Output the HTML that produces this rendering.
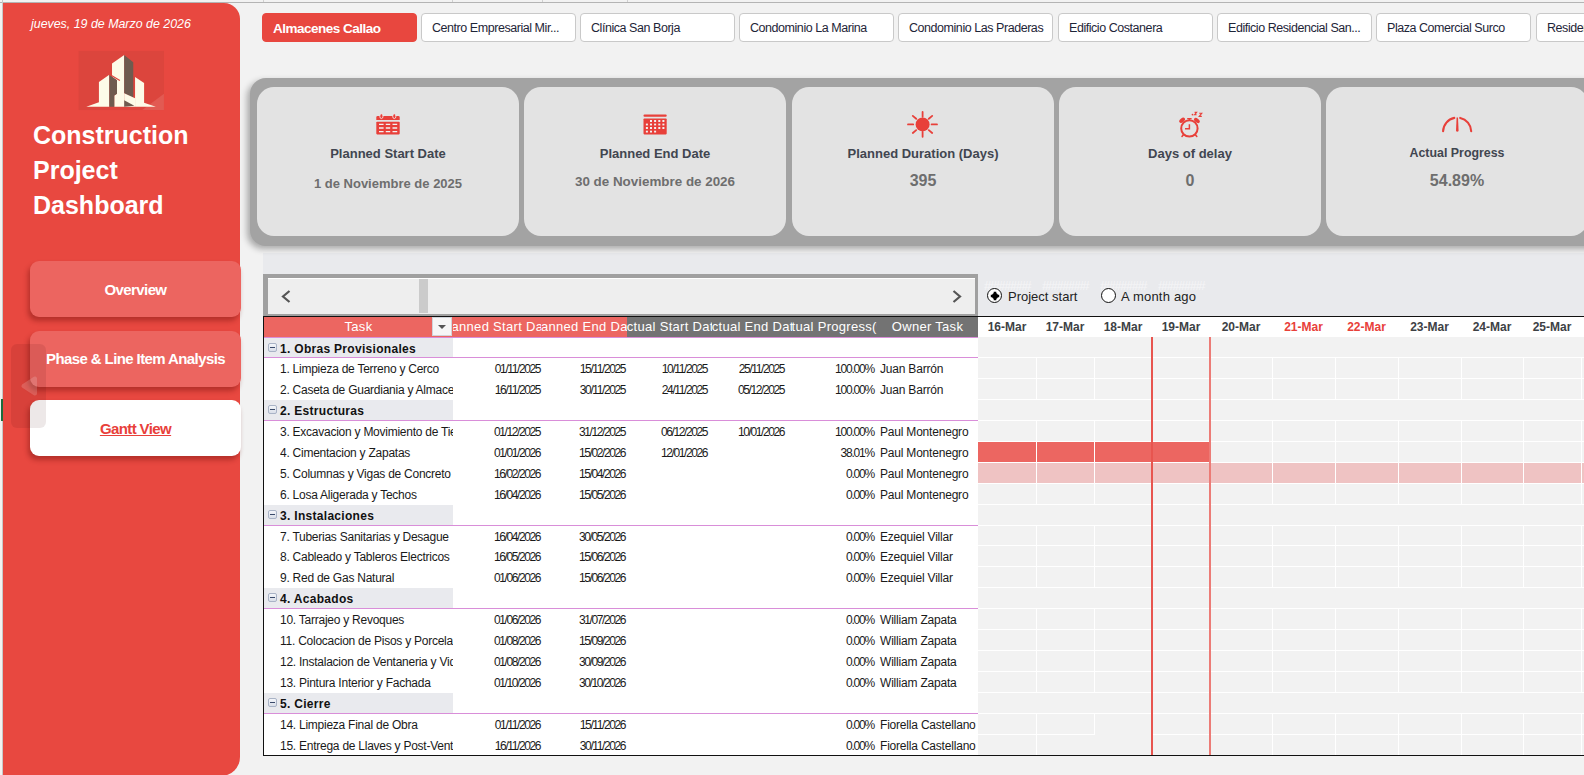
<!DOCTYPE html>
<html><head><meta charset="utf-8">
<style>
*{margin:0;padding:0;box-sizing:border-box}
html,body{width:1584px;height:775px;overflow:hidden;background:#f2f2f2;font-family:"Liberation Sans",sans-serif;position:relative}
.a{position:absolute}
.nw{white-space:nowrap}
/* sidebar */
#sb{left:3px;top:3px;width:237px;height:773px;background:#e84840;border-radius:0 16px 19px 0}
.btn{position:absolute;left:30px;width:211px;height:56px;border-radius:9px;background:#ec6560;box-shadow:-2px 4px 5px rgba(120,20,15,.45);color:#fff;font-weight:bold;font-size:15px;letter-spacing:-0.6px;text-align:center;line-height:58px}
/* tabs */
.tab{position:absolute;top:13px;height:29px;width:155px;border:1px solid #c9c9c9;border-radius:4px;background:#fff;color:#1e2538;font-size:12.5px;letter-spacing:-0.45px;line-height:29px;padding-left:10px;white-space:nowrap;overflow:hidden}
/* kpi */
#kpi{left:250px;top:78px;width:1400px;height:168px;background:#a3a3a3;border-radius:16px;box-shadow:-3px 3px 6px rgba(0,0,0,.3);z-index:1}
.card,.ct,#kpi~svg{z-index:2}
.card{position:absolute;top:87px;width:262px;height:149px;background:#e3e3e3;border-radius:17px}
.ct{position:absolute;left:0;width:262px;text-align:center;font-weight:bold;white-space:nowrap}
.ct1{top:145px;font-size:13px;color:#414650}
.ct2{font-weight:bold;color:#6e6e6e}
.hd{height:21px;display:flex;justify-content:center;overflow:hidden;white-space:nowrap;color:#fff;font-size:13px;line-height:21px;letter-spacing:0.3px}
.tt,.tp,.td,.tpc,.to{white-space:nowrap;line-height:21px;font-size:12px;color:#1a1a1a}
.tt{overflow:hidden;letter-spacing:-0.25px}
.tp{font-weight:bold;letter-spacing:0.3px;color:#111}
.td{text-align:right;letter-spacing:-1.4px}
.tpc{text-align:right;letter-spacing:-1.2px}
.to{letter-spacing:-0.2px}
.gd{height:21px;text-align:center;font-weight:bold;font-size:12px;line-height:21px;white-space:nowrap}
</style></head><body>
<!-- top gridline strip -->
<div class="a" style="left:0;top:2px;width:1584px;height:1px;background:#b4b4b4"></div><div class="a" style="left:263px;top:0;width:1px;height:2px;background:#d0d0d0"></div><div class="a" style="left:452px;top:0;width:1px;height:2px;background:#d0d0d0"></div><div class="a" style="left:542px;top:0;width:1px;height:2px;background:#d0d0d0"></div><div class="a" style="left:627px;top:0;width:1px;height:2px;background:#d0d0d0"></div>

<!-- sidebar -->
<div class="a" style="left:2px;top:0;width:1px;height:775px;background:#c8c8c8"></div>
<div class="a" style="left:1px;top:399px;width:2px;height:22px;background:#1e6b3c"></div>
<div id="sb" class="a"></div>
<div class="a nw" style="left:31px;top:17px;color:#fff;font-style:italic;font-size:12.4px">jueves, 19 de Marzo de 2026</div>
<div class="a" style="left:33px;top:118px;color:#fff;font-weight:bold;font-size:25px;line-height:35px">Construction<br>Project<br>Dashboard</div>
<div class="btn" style="top:261px">Overview</div>
<div class="btn" style="top:331px;line-height:56px">Phase &amp; Line Item Analysis</div>
<div class="btn" style="top:400px;background:#fff;color:#e8403a;text-decoration:underline">Gantt View</div>

<!-- tabs -->
<div class="tab" style="left:262px;background:#e8473f;border-color:#e8473f;color:#fff;font-weight:bold;font-size:13.5px;letter-spacing:-0.5px;line-height:30px">Almacenes Callao</div>
<div class="tab" style="left:421px">Centro Empresarial Mir...</div>
<div class="tab" style="left:580px">Clínica San Borja</div>
<div class="tab" style="left:739px">Condominio La Marina</div>
<div class="tab" style="left:898px">Condominio Las Praderas</div>
<div class="tab" style="left:1058px">Edificio Costanera</div>
<div class="tab" style="left:1217px">Edificio Residencial San...</div>
<div class="tab" style="left:1376px">Plaza Comercial Surco</div>
<div class="tab" style="left:1536px">Residencial</div>

<!-- KPI -->
<div id="kpi" class="a"></div>
<div class="card" style="left:257px"></div>
<div class="card" style="left:524px"></div>
<div class="card" style="left:792px"></div>
<div class="card" style="left:1059px"></div>
<div class="card" style="left:1326px"></div>


<!-- TABLE -->
<div class="a" style="left:263px;top:253px;width:1321px;height:63px;background:#e9eaed"></div>
<div class="a" style="left:263px;top:274px;width:715px;height:42px;background:#a0a0a0"></div>
<div class="a" style="left:268px;top:278px;width:707px;height:36px;background:#eeeeee;border-top:1px solid #fff"></div>
<div class="a" style="left:419px;top:279px;width:9px;height:34px;background:#cbcbcb"></div>
<svg class="a" style="left:278px;top:288px" width="16" height="17" viewBox="0 0 16 17"><path d="M11.5 3 L5 8.5 L11.5 14" fill="none" stroke="#545454" stroke-width="2.2"/></svg>
<svg class="a" style="left:949px;top:288px" width="16" height="17" viewBox="0 0 16 17"><path d="M4.5 3 L11 8.5 L4.5 14" fill="none" stroke="#545454" stroke-width="2.2"/></svg>
<div class="a nw" style="left:984px;top:279px;font-size:13px;line-height:13px;color:#f5f5f7;letter-spacing:-1.48px">########</div>
<div class="a nw" style="left:1042px;top:279px;font-size:13px;line-height:13px;color:#f5f5f7;letter-spacing:-1.48px">########</div>
<div class="a nw" style="left:1100px;top:279px;font-size:13px;line-height:13px;color:#f5f5f7;letter-spacing:-1.48px">########</div>
<div class="a nw" style="left:1158px;top:279px;font-size:13px;line-height:13px;color:#f5f5f7;letter-spacing:-1.48px">########</div>
<div class="a" style="left:987px;top:288px;width:15px;height:15px;border:1px solid #111;border-radius:50%;background:#fff"></div>
<svg class="a" style="left:987.5px;top:288.5px" width="14" height="14" viewBox="0 0 14 14"><circle cx="7" cy="7" r="3" fill="#000"/><path d="M7 2.8V11.2M2.8 7H11.2" stroke="#000" stroke-width="2.6"/></svg>
<div class="a nw" style="left:1008px;top:289px;font-size:13px;line-height:16px;color:#222">Project start</div>
<div class="a" style="left:1101px;top:288px;width:15px;height:15px;border:1px solid #111;border-radius:50%;background:#fff"></div>
<div class="a nw" style="left:1121px;top:289px;font-size:13px;line-height:16px;color:#222;letter-spacing:0.2px">A month ago</div>
<div class="a" style="left:263px;top:316px;width:1321px;height:1px;background:#111"></div>
<div class="a" style="left:263px;top:317px;width:715px;height:439px;background:#fff;border-left:1px solid #111"></div>
<div class="a" style="left:264px;top:317px;width:363px;height:20px;background:#ec6661"></div>
<div class="a" style="left:627px;top:317px;width:351px;height:20px;background:#737373"></div>
<div class="a" style="left:264px;top:337px;width:714px;height:1px;background:#d98ed9"></div>
<div class="a hd" style="left:264px;top:316px;width:189px"><span>Task</span></div>
<div class="a hd" style="left:453px;top:316px;width:88px"><span>Planned Start Date</span></div>
<div class="a hd" style="left:541px;top:316px;width:86px"><span>Planned End Date</span></div>
<div class="a hd" style="left:627px;top:316px;width:85px"><span>Actual Start Date</span></div>
<div class="a hd" style="left:712px;top:316px;width:80px"><span>Actual End Date</span></div>
<div class="a hd" style="left:792px;top:316px;width:85px"><span>Actual Progress(%)</span></div>
<div class="a hd" style="left:877px;top:316px;width:101px"><span>Owner Task</span></div>
<div class="a" style="left:432px;top:317px;width:20px;height:19px;background:#f6f6f6;border:1px solid #d0d4da"></div>
<svg class="a" style="left:432px;top:317px" width="20" height="19" viewBox="0 0 20 19"><path d="M6 8 L14 8 L10 12 Z" fill="#555"/></svg>
<div class="a" style="left:264px;top:338px;width:189px;height:19px;background:#e9eaee"></div>
<div class="a" style="left:264px;top:357px;width:714px;height:1px;background:#d98ed9"></div>
<div class="a" style="left:268px;top:343px;width:9px;height:9px;border:1px solid #a9b3c6;border-radius:2px;background:linear-gradient(#f4f6fa,#d9dee8)"></div>
<div class="a" style="left:270px;top:347px;width:5px;height:1px;background:#3a4a6a"></div>
<div class="a tp" style="left:280px;top:339px">1. Obras Provisionales</div>
<div class="a tt" style="left:280px;top:359px;width:173px">1. Limpieza de Terreno y Cerco</div>
<div class="a td" style="left:480px;top:359px;width:60px">01/11/2025</div>
<div class="a td" style="left:565px;top:359px;width:60px">15/11/2025</div>
<div class="a td" style="left:647px;top:359px;width:60px">10/11/2025</div>
<div class="a td" style="left:724px;top:359px;width:60px">25/11/2025</div>
<div class="a tpc" style="left:814px;top:359px;width:60px">100.00%</div>
<div class="a to" style="left:880px;top:359px">Juan Barrón</div>
<div class="a tt" style="left:280px;top:380px;width:173px">2. Caseta de Guardiania y Almacen</div>
<div class="a td" style="left:480px;top:380px;width:60px">16/11/2025</div>
<div class="a td" style="left:565px;top:380px;width:60px">30/11/2025</div>
<div class="a td" style="left:647px;top:380px;width:60px">24/11/2025</div>
<div class="a td" style="left:724px;top:380px;width:60px">05/12/2025</div>
<div class="a tpc" style="left:814px;top:380px;width:60px">100.00%</div>
<div class="a to" style="left:880px;top:380px">Juan Barrón</div>
<div class="a" style="left:264px;top:400px;width:189px;height:20px;background:#e9eaee"></div>
<div class="a" style="left:264px;top:420px;width:714px;height:1px;background:#d98ed9"></div>
<div class="a" style="left:268px;top:405px;width:9px;height:9px;border:1px solid #a9b3c6;border-radius:2px;background:linear-gradient(#f4f6fa,#d9dee8)"></div>
<div class="a" style="left:270px;top:409px;width:5px;height:1px;background:#3a4a6a"></div>
<div class="a tp" style="left:280px;top:401px">2. Estructuras</div>
<div class="a tt" style="left:280px;top:422px;width:173px">3. Excavacion y Movimiento de Tierras</div>
<div class="a td" style="left:480px;top:422px;width:60px">01/12/2025</div>
<div class="a td" style="left:565px;top:422px;width:60px">31/12/2025</div>
<div class="a td" style="left:647px;top:422px;width:60px">06/12/2025</div>
<div class="a td" style="left:724px;top:422px;width:60px">10/01/2026</div>
<div class="a tpc" style="left:814px;top:422px;width:60px">100.00%</div>
<div class="a to" style="left:880px;top:422px">Paul Montenegro</div>
<div class="a tt" style="left:280px;top:443px;width:173px">4. Cimentacion y Zapatas</div>
<div class="a td" style="left:480px;top:443px;width:60px">01/01/2026</div>
<div class="a td" style="left:565px;top:443px;width:60px">15/02/2026</div>
<div class="a td" style="left:647px;top:443px;width:60px">12/01/2026</div>
<div class="a tpc" style="left:814px;top:443px;width:60px">38.01%</div>
<div class="a to" style="left:880px;top:443px">Paul Montenegro</div>
<div class="a tt" style="left:280px;top:464px;width:173px">5. Columnas y Vigas de Concreto</div>
<div class="a td" style="left:480px;top:464px;width:60px">16/02/2026</div>
<div class="a td" style="left:565px;top:464px;width:60px">15/04/2026</div>
<div class="a tpc" style="left:814px;top:464px;width:60px">0.00%</div>
<div class="a to" style="left:880px;top:464px">Paul Montenegro</div>
<div class="a tt" style="left:280px;top:485px;width:173px">6. Losa Aligerada y Techos</div>
<div class="a td" style="left:480px;top:485px;width:60px">16/04/2026</div>
<div class="a td" style="left:565px;top:485px;width:60px">15/05/2026</div>
<div class="a tpc" style="left:814px;top:485px;width:60px">0.00%</div>
<div class="a to" style="left:880px;top:485px">Paul Montenegro</div>
<div class="a" style="left:264px;top:505px;width:189px;height:20px;background:#e9eaee"></div>
<div class="a" style="left:264px;top:525px;width:714px;height:1px;background:#d98ed9"></div>
<div class="a" style="left:268px;top:510px;width:9px;height:9px;border:1px solid #a9b3c6;border-radius:2px;background:linear-gradient(#f4f6fa,#d9dee8)"></div>
<div class="a" style="left:270px;top:514px;width:5px;height:1px;background:#3a4a6a"></div>
<div class="a tp" style="left:280px;top:506px">3. Instalaciones</div>
<div class="a tt" style="left:280px;top:527px;width:173px">7. Tuberias Sanitarias y Desague</div>
<div class="a td" style="left:480px;top:527px;width:60px">16/04/2026</div>
<div class="a td" style="left:565px;top:527px;width:60px">30/05/2026</div>
<div class="a tpc" style="left:814px;top:527px;width:60px">0.00%</div>
<div class="a to" style="left:880px;top:527px">Ezequiel Villar</div>
<div class="a tt" style="left:280px;top:547px;width:173px">8. Cableado y Tableros Electricos</div>
<div class="a td" style="left:480px;top:547px;width:60px">16/05/2026</div>
<div class="a td" style="left:565px;top:547px;width:60px">15/06/2026</div>
<div class="a tpc" style="left:814px;top:547px;width:60px">0.00%</div>
<div class="a to" style="left:880px;top:547px">Ezequiel Villar</div>
<div class="a tt" style="left:280px;top:568px;width:173px">9. Red de Gas Natural</div>
<div class="a td" style="left:480px;top:568px;width:60px">01/06/2026</div>
<div class="a td" style="left:565px;top:568px;width:60px">15/06/2026</div>
<div class="a tpc" style="left:814px;top:568px;width:60px">0.00%</div>
<div class="a to" style="left:880px;top:568px">Ezequiel Villar</div>
<div class="a" style="left:264px;top:588px;width:189px;height:20px;background:#e9eaee"></div>
<div class="a" style="left:264px;top:608px;width:714px;height:1px;background:#d98ed9"></div>
<div class="a" style="left:268px;top:593px;width:9px;height:9px;border:1px solid #a9b3c6;border-radius:2px;background:linear-gradient(#f4f6fa,#d9dee8)"></div>
<div class="a" style="left:270px;top:597px;width:5px;height:1px;background:#3a4a6a"></div>
<div class="a tp" style="left:280px;top:589px">4. Acabados</div>
<div class="a tt" style="left:280px;top:610px;width:173px">10. Tarrajeo y Revoques</div>
<div class="a td" style="left:480px;top:610px;width:60px">01/06/2026</div>
<div class="a td" style="left:565px;top:610px;width:60px">31/07/2026</div>
<div class="a tpc" style="left:814px;top:610px;width:60px">0.00%</div>
<div class="a to" style="left:880px;top:610px">William Zapata</div>
<div class="a tt" style="left:280px;top:631px;width:173px">11. Colocacion de Pisos y Porcelanato</div>
<div class="a td" style="left:480px;top:631px;width:60px">01/08/2026</div>
<div class="a td" style="left:565px;top:631px;width:60px">15/09/2026</div>
<div class="a tpc" style="left:814px;top:631px;width:60px">0.00%</div>
<div class="a to" style="left:880px;top:631px">William Zapata</div>
<div class="a tt" style="left:280px;top:652px;width:173px">12. Instalacion de Ventaneria y Vidrios</div>
<div class="a td" style="left:480px;top:652px;width:60px">01/08/2026</div>
<div class="a td" style="left:565px;top:652px;width:60px">30/09/2026</div>
<div class="a tpc" style="left:814px;top:652px;width:60px">0.00%</div>
<div class="a to" style="left:880px;top:652px">William Zapata</div>
<div class="a tt" style="left:280px;top:673px;width:173px">13. Pintura Interior y Fachada</div>
<div class="a td" style="left:480px;top:673px;width:60px">01/10/2026</div>
<div class="a td" style="left:565px;top:673px;width:60px">30/10/2026</div>
<div class="a tpc" style="left:814px;top:673px;width:60px">0.00%</div>
<div class="a to" style="left:880px;top:673px">William Zapata</div>
<div class="a" style="left:264px;top:693px;width:189px;height:20px;background:#e9eaee"></div>
<div class="a" style="left:264px;top:713px;width:714px;height:1px;background:#d98ed9"></div>
<div class="a" style="left:268px;top:698px;width:9px;height:9px;border:1px solid #a9b3c6;border-radius:2px;background:linear-gradient(#f4f6fa,#d9dee8)"></div>
<div class="a" style="left:270px;top:702px;width:5px;height:1px;background:#3a4a6a"></div>
<div class="a tp" style="left:280px;top:694px">5. Cierre</div>
<div class="a tt" style="left:280px;top:715px;width:173px">14. Limpieza Final de Obra</div>
<div class="a td" style="left:480px;top:715px;width:60px">01/11/2026</div>
<div class="a td" style="left:565px;top:715px;width:60px">15/11/2026</div>
<div class="a tpc" style="left:814px;top:715px;width:60px">0.00%</div>
<div class="a to" style="left:880px;top:715px">Fiorella Castellano</div>
<div class="a tt" style="left:280px;top:736px;width:173px">15. Entrega de Llaves y Post-Venta</div>
<div class="a td" style="left:480px;top:736px;width:60px">16/11/2026</div>
<div class="a td" style="left:565px;top:736px;width:60px">30/11/2026</div>
<div class="a tpc" style="left:814px;top:736px;width:60px">0.00%</div>
<div class="a to" style="left:880px;top:736px">Fiorella Castellano</div>
<div class="a" style="left:978px;top:317px;width:606px;height:20px;background:#fff"></div>
<div class="a gd" style="left:978px;top:317px;width:58px;color:#3d4145">16-Mar</div>
<div class="a gd" style="left:1036px;top:317px;width:58px;color:#3d4145">17-Mar</div>
<div class="a gd" style="left:1094px;top:317px;width:58px;color:#3d4145">18-Mar</div>
<div class="a gd" style="left:1152px;top:317px;width:58px;color:#3d4145">19-Mar</div>
<div class="a gd" style="left:1210px;top:317px;width:62px;color:#3d4145">20-Mar</div>
<div class="a gd" style="left:1272px;top:317px;width:63px;color:#e8403a">21-Mar</div>
<div class="a gd" style="left:1335px;top:317px;width:63px;color:#e8403a">22-Mar</div>
<div class="a gd" style="left:1398px;top:317px;width:63px;color:#3d4145">23-Mar</div>
<div class="a gd" style="left:1461px;top:317px;width:62px;color:#3d4145">24-Mar</div>
<div class="a gd" style="left:1523px;top:317px;width:58px;color:#3d4145">25-Mar</div>
<div class="a gd" style="left:1581px;top:317px;width:59px;color:#3d4145">26-Mar</div>
<div class="a" style="left:978px;top:338px;width:606px;height:417px;background:#f2f2f2"></div>
<div class="a" style="left:978px;top:357px;width:606px;height:1px;background:#fff"></div>
<div class="a" style="left:978px;top:378px;width:606px;height:1px;background:#fff"></div>
<div class="a" style="left:1036px;top:358px;width:1px;height:21px;background:#fff"></div>
<div class="a" style="left:1094px;top:358px;width:1px;height:21px;background:#fff"></div>
<div class="a" style="left:1152px;top:358px;width:1px;height:21px;background:#fff"></div>
<div class="a" style="left:1210px;top:358px;width:1px;height:21px;background:#fff"></div>
<div class="a" style="left:1272px;top:358px;width:1px;height:21px;background:#fff"></div>
<div class="a" style="left:1335px;top:358px;width:1px;height:21px;background:#fff"></div>
<div class="a" style="left:1398px;top:358px;width:1px;height:21px;background:#fff"></div>
<div class="a" style="left:1461px;top:358px;width:1px;height:21px;background:#fff"></div>
<div class="a" style="left:1523px;top:358px;width:1px;height:21px;background:#fff"></div>
<div class="a" style="left:1581px;top:358px;width:1px;height:21px;background:#fff"></div>
<div class="a" style="left:978px;top:399px;width:606px;height:1px;background:#fff"></div>
<div class="a" style="left:1036px;top:379px;width:1px;height:21px;background:#fff"></div>
<div class="a" style="left:1094px;top:379px;width:1px;height:21px;background:#fff"></div>
<div class="a" style="left:1152px;top:379px;width:1px;height:21px;background:#fff"></div>
<div class="a" style="left:1210px;top:379px;width:1px;height:21px;background:#fff"></div>
<div class="a" style="left:1272px;top:379px;width:1px;height:21px;background:#fff"></div>
<div class="a" style="left:1335px;top:379px;width:1px;height:21px;background:#fff"></div>
<div class="a" style="left:1398px;top:379px;width:1px;height:21px;background:#fff"></div>
<div class="a" style="left:1461px;top:379px;width:1px;height:21px;background:#fff"></div>
<div class="a" style="left:1523px;top:379px;width:1px;height:21px;background:#fff"></div>
<div class="a" style="left:1581px;top:379px;width:1px;height:21px;background:#fff"></div>
<div class="a" style="left:978px;top:420px;width:606px;height:1px;background:#fff"></div>
<div class="a" style="left:978px;top:441px;width:606px;height:1px;background:#fff"></div>
<div class="a" style="left:1036px;top:421px;width:1px;height:21px;background:#fff"></div>
<div class="a" style="left:1094px;top:421px;width:1px;height:21px;background:#fff"></div>
<div class="a" style="left:1152px;top:421px;width:1px;height:21px;background:#fff"></div>
<div class="a" style="left:1210px;top:421px;width:1px;height:21px;background:#fff"></div>
<div class="a" style="left:1272px;top:421px;width:1px;height:21px;background:#fff"></div>
<div class="a" style="left:1335px;top:421px;width:1px;height:21px;background:#fff"></div>
<div class="a" style="left:1398px;top:421px;width:1px;height:21px;background:#fff"></div>
<div class="a" style="left:1461px;top:421px;width:1px;height:21px;background:#fff"></div>
<div class="a" style="left:1523px;top:421px;width:1px;height:21px;background:#fff"></div>
<div class="a" style="left:1581px;top:421px;width:1px;height:21px;background:#fff"></div>
<div class="a" style="left:978px;top:462px;width:606px;height:1px;background:#fff"></div>
<div class="a" style="left:978px;top:442px;width:232px;height:20px;background:#ec6661"></div>
<div class="a" style="left:1036px;top:442px;width:1px;height:21px;background:#fff"></div>
<div class="a" style="left:1094px;top:442px;width:1px;height:21px;background:#fff"></div>
<div class="a" style="left:1152px;top:442px;width:1px;height:21px;background:#fff"></div>
<div class="a" style="left:1210px;top:442px;width:1px;height:21px;background:#fff"></div>
<div class="a" style="left:1272px;top:442px;width:1px;height:21px;background:#fff"></div>
<div class="a" style="left:1335px;top:442px;width:1px;height:21px;background:#fff"></div>
<div class="a" style="left:1398px;top:442px;width:1px;height:21px;background:#fff"></div>
<div class="a" style="left:1461px;top:442px;width:1px;height:21px;background:#fff"></div>
<div class="a" style="left:1523px;top:442px;width:1px;height:21px;background:#fff"></div>
<div class="a" style="left:1581px;top:442px;width:1px;height:21px;background:#fff"></div>
<div class="a" style="left:978px;top:483px;width:606px;height:1px;background:#fff"></div>
<div class="a" style="left:978px;top:463px;width:606px;height:20px;background:#efc3c3"></div>
<div class="a" style="left:1036px;top:463px;width:1px;height:21px;background:#fff"></div>
<div class="a" style="left:1094px;top:463px;width:1px;height:21px;background:#fff"></div>
<div class="a" style="left:1152px;top:463px;width:1px;height:21px;background:#fff"></div>
<div class="a" style="left:1210px;top:463px;width:1px;height:21px;background:#fff"></div>
<div class="a" style="left:1272px;top:463px;width:1px;height:21px;background:#fff"></div>
<div class="a" style="left:1335px;top:463px;width:1px;height:21px;background:#fff"></div>
<div class="a" style="left:1398px;top:463px;width:1px;height:21px;background:#fff"></div>
<div class="a" style="left:1461px;top:463px;width:1px;height:21px;background:#fff"></div>
<div class="a" style="left:1523px;top:463px;width:1px;height:21px;background:#fff"></div>
<div class="a" style="left:1581px;top:463px;width:1px;height:21px;background:#fff"></div>
<div class="a" style="left:978px;top:504px;width:606px;height:1px;background:#fff"></div>
<div class="a" style="left:1036px;top:484px;width:1px;height:21px;background:#fff"></div>
<div class="a" style="left:1094px;top:484px;width:1px;height:21px;background:#fff"></div>
<div class="a" style="left:1152px;top:484px;width:1px;height:21px;background:#fff"></div>
<div class="a" style="left:1210px;top:484px;width:1px;height:21px;background:#fff"></div>
<div class="a" style="left:1272px;top:484px;width:1px;height:21px;background:#fff"></div>
<div class="a" style="left:1335px;top:484px;width:1px;height:21px;background:#fff"></div>
<div class="a" style="left:1398px;top:484px;width:1px;height:21px;background:#fff"></div>
<div class="a" style="left:1461px;top:484px;width:1px;height:21px;background:#fff"></div>
<div class="a" style="left:1523px;top:484px;width:1px;height:21px;background:#fff"></div>
<div class="a" style="left:1581px;top:484px;width:1px;height:21px;background:#fff"></div>
<div class="a" style="left:978px;top:525px;width:606px;height:1px;background:#fff"></div>
<div class="a" style="left:978px;top:545px;width:606px;height:1px;background:#fff"></div>
<div class="a" style="left:1036px;top:526px;width:1px;height:20px;background:#fff"></div>
<div class="a" style="left:1094px;top:526px;width:1px;height:20px;background:#fff"></div>
<div class="a" style="left:1152px;top:526px;width:1px;height:20px;background:#fff"></div>
<div class="a" style="left:1210px;top:526px;width:1px;height:20px;background:#fff"></div>
<div class="a" style="left:1272px;top:526px;width:1px;height:20px;background:#fff"></div>
<div class="a" style="left:1335px;top:526px;width:1px;height:20px;background:#fff"></div>
<div class="a" style="left:1398px;top:526px;width:1px;height:20px;background:#fff"></div>
<div class="a" style="left:1461px;top:526px;width:1px;height:20px;background:#fff"></div>
<div class="a" style="left:1523px;top:526px;width:1px;height:20px;background:#fff"></div>
<div class="a" style="left:1581px;top:526px;width:1px;height:20px;background:#fff"></div>
<div class="a" style="left:978px;top:566px;width:606px;height:1px;background:#fff"></div>
<div class="a" style="left:1036px;top:546px;width:1px;height:21px;background:#fff"></div>
<div class="a" style="left:1094px;top:546px;width:1px;height:21px;background:#fff"></div>
<div class="a" style="left:1152px;top:546px;width:1px;height:21px;background:#fff"></div>
<div class="a" style="left:1210px;top:546px;width:1px;height:21px;background:#fff"></div>
<div class="a" style="left:1272px;top:546px;width:1px;height:21px;background:#fff"></div>
<div class="a" style="left:1335px;top:546px;width:1px;height:21px;background:#fff"></div>
<div class="a" style="left:1398px;top:546px;width:1px;height:21px;background:#fff"></div>
<div class="a" style="left:1461px;top:546px;width:1px;height:21px;background:#fff"></div>
<div class="a" style="left:1523px;top:546px;width:1px;height:21px;background:#fff"></div>
<div class="a" style="left:1581px;top:546px;width:1px;height:21px;background:#fff"></div>
<div class="a" style="left:978px;top:587px;width:606px;height:1px;background:#fff"></div>
<div class="a" style="left:1036px;top:567px;width:1px;height:21px;background:#fff"></div>
<div class="a" style="left:1094px;top:567px;width:1px;height:21px;background:#fff"></div>
<div class="a" style="left:1152px;top:567px;width:1px;height:21px;background:#fff"></div>
<div class="a" style="left:1210px;top:567px;width:1px;height:21px;background:#fff"></div>
<div class="a" style="left:1272px;top:567px;width:1px;height:21px;background:#fff"></div>
<div class="a" style="left:1335px;top:567px;width:1px;height:21px;background:#fff"></div>
<div class="a" style="left:1398px;top:567px;width:1px;height:21px;background:#fff"></div>
<div class="a" style="left:1461px;top:567px;width:1px;height:21px;background:#fff"></div>
<div class="a" style="left:1523px;top:567px;width:1px;height:21px;background:#fff"></div>
<div class="a" style="left:1581px;top:567px;width:1px;height:21px;background:#fff"></div>
<div class="a" style="left:978px;top:608px;width:606px;height:1px;background:#fff"></div>
<div class="a" style="left:978px;top:629px;width:606px;height:1px;background:#fff"></div>
<div class="a" style="left:1036px;top:609px;width:1px;height:21px;background:#fff"></div>
<div class="a" style="left:1094px;top:609px;width:1px;height:21px;background:#fff"></div>
<div class="a" style="left:1152px;top:609px;width:1px;height:21px;background:#fff"></div>
<div class="a" style="left:1210px;top:609px;width:1px;height:21px;background:#fff"></div>
<div class="a" style="left:1272px;top:609px;width:1px;height:21px;background:#fff"></div>
<div class="a" style="left:1335px;top:609px;width:1px;height:21px;background:#fff"></div>
<div class="a" style="left:1398px;top:609px;width:1px;height:21px;background:#fff"></div>
<div class="a" style="left:1461px;top:609px;width:1px;height:21px;background:#fff"></div>
<div class="a" style="left:1523px;top:609px;width:1px;height:21px;background:#fff"></div>
<div class="a" style="left:1581px;top:609px;width:1px;height:21px;background:#fff"></div>
<div class="a" style="left:978px;top:650px;width:606px;height:1px;background:#fff"></div>
<div class="a" style="left:1036px;top:630px;width:1px;height:21px;background:#fff"></div>
<div class="a" style="left:1094px;top:630px;width:1px;height:21px;background:#fff"></div>
<div class="a" style="left:1152px;top:630px;width:1px;height:21px;background:#fff"></div>
<div class="a" style="left:1210px;top:630px;width:1px;height:21px;background:#fff"></div>
<div class="a" style="left:1272px;top:630px;width:1px;height:21px;background:#fff"></div>
<div class="a" style="left:1335px;top:630px;width:1px;height:21px;background:#fff"></div>
<div class="a" style="left:1398px;top:630px;width:1px;height:21px;background:#fff"></div>
<div class="a" style="left:1461px;top:630px;width:1px;height:21px;background:#fff"></div>
<div class="a" style="left:1523px;top:630px;width:1px;height:21px;background:#fff"></div>
<div class="a" style="left:1581px;top:630px;width:1px;height:21px;background:#fff"></div>
<div class="a" style="left:978px;top:671px;width:606px;height:1px;background:#fff"></div>
<div class="a" style="left:1036px;top:651px;width:1px;height:21px;background:#fff"></div>
<div class="a" style="left:1094px;top:651px;width:1px;height:21px;background:#fff"></div>
<div class="a" style="left:1152px;top:651px;width:1px;height:21px;background:#fff"></div>
<div class="a" style="left:1210px;top:651px;width:1px;height:21px;background:#fff"></div>
<div class="a" style="left:1272px;top:651px;width:1px;height:21px;background:#fff"></div>
<div class="a" style="left:1335px;top:651px;width:1px;height:21px;background:#fff"></div>
<div class="a" style="left:1398px;top:651px;width:1px;height:21px;background:#fff"></div>
<div class="a" style="left:1461px;top:651px;width:1px;height:21px;background:#fff"></div>
<div class="a" style="left:1523px;top:651px;width:1px;height:21px;background:#fff"></div>
<div class="a" style="left:1581px;top:651px;width:1px;height:21px;background:#fff"></div>
<div class="a" style="left:978px;top:692px;width:606px;height:1px;background:#fff"></div>
<div class="a" style="left:1036px;top:672px;width:1px;height:21px;background:#fff"></div>
<div class="a" style="left:1094px;top:672px;width:1px;height:21px;background:#fff"></div>
<div class="a" style="left:1152px;top:672px;width:1px;height:21px;background:#fff"></div>
<div class="a" style="left:1210px;top:672px;width:1px;height:21px;background:#fff"></div>
<div class="a" style="left:1272px;top:672px;width:1px;height:21px;background:#fff"></div>
<div class="a" style="left:1335px;top:672px;width:1px;height:21px;background:#fff"></div>
<div class="a" style="left:1398px;top:672px;width:1px;height:21px;background:#fff"></div>
<div class="a" style="left:1461px;top:672px;width:1px;height:21px;background:#fff"></div>
<div class="a" style="left:1523px;top:672px;width:1px;height:21px;background:#fff"></div>
<div class="a" style="left:1581px;top:672px;width:1px;height:21px;background:#fff"></div>
<div class="a" style="left:978px;top:713px;width:606px;height:1px;background:#fff"></div>
<div class="a" style="left:978px;top:734px;width:606px;height:1px;background:#fff"></div>
<div class="a" style="left:1036px;top:714px;width:1px;height:21px;background:#fff"></div>
<div class="a" style="left:1094px;top:714px;width:1px;height:21px;background:#fff"></div>
<div class="a" style="left:1152px;top:714px;width:1px;height:21px;background:#fff"></div>
<div class="a" style="left:1210px;top:714px;width:1px;height:21px;background:#fff"></div>
<div class="a" style="left:1272px;top:714px;width:1px;height:21px;background:#fff"></div>
<div class="a" style="left:1335px;top:714px;width:1px;height:21px;background:#fff"></div>
<div class="a" style="left:1398px;top:714px;width:1px;height:21px;background:#fff"></div>
<div class="a" style="left:1461px;top:714px;width:1px;height:21px;background:#fff"></div>
<div class="a" style="left:1523px;top:714px;width:1px;height:21px;background:#fff"></div>
<div class="a" style="left:1581px;top:714px;width:1px;height:21px;background:#fff"></div>
<div class="a" style="left:1036px;top:735px;width:1px;height:21px;background:#fff"></div>
<div class="a" style="left:1152px;top:735px;width:1px;height:21px;background:#fff"></div>
<div class="a" style="left:1210px;top:735px;width:1px;height:21px;background:#fff"></div>
<div class="a" style="left:1272px;top:735px;width:1px;height:21px;background:#fff"></div>
<div class="a" style="left:1335px;top:735px;width:1px;height:21px;background:#fff"></div>
<div class="a" style="left:1398px;top:735px;width:1px;height:21px;background:#fff"></div>
<div class="a" style="left:1461px;top:735px;width:1px;height:21px;background:#fff"></div>
<div class="a" style="left:1523px;top:735px;width:1px;height:21px;background:#fff"></div>
<div class="a" style="left:1581px;top:735px;width:1px;height:21px;background:#fff"></div>
<div class="a" style="left:1095px;top:734px;width:57px;height:1px;background:#f2f2f2"></div>
<div class="a" style="left:1151px;top:337px;width:2px;height:418px;background:#e8554f"></div>
<div class="a" style="left:1209px;top:337px;width:2px;height:418px;background:#ec7b76"></div>
<div class="a" style="left:263px;top:755px;width:1321px;height:1px;background:#111"></div>
<!-- KPI texts -->
<div class="ct ct1" style="left:257px;top:146px">Planned Start Date</div>
<div class="ct ct2" style="left:257px;top:176px;font-size:13px">1 de Noviembre de 2025</div>
<div class="ct ct1" style="left:524px;top:146px">Planned End Date</div>
<div class="ct ct2" style="left:524px;top:174px;font-size:13.4px">30 de Noviembre de 2026</div>
<div class="ct ct1" style="left:792px;top:146px">Planned Duration (Days)</div>
<div class="ct ct2" style="left:792px;top:172px;font-size:16px">395</div>
<div class="ct ct1" style="left:1059px;top:146px">Days of delay</div>
<div class="ct ct2" style="left:1059px;top:172px;font-size:16px">0</div>
<div class="ct ct1" style="left:1326px;top:146px;font-size:12.4px">Actual Progress</div>
<div class="ct ct2" style="left:1326px;top:172px;font-size:16px">54.89%</div>

<!-- KPI icons -->
<svg class="a" style="left:368px;top:105px" width="40" height="40" viewBox="0 0 40 40">
 <g fill="#e8403a">
  <path d="M8.3 12.4 Q8.3 11.1 9.6 11.1 L30.4 11.1 Q31.7 11.1 31.7 12.4 L31.7 15 L8.3 15 Z"/>
  <rect x="8.3" y="16.8" width="23.4" height="12.6" rx="0.8"/>
 </g>
 <g fill="#e8403a" stroke="#f3f3f3" stroke-width="0.8">
  <ellipse cx="13.4" cy="11.2" rx="1.6" ry="2.4"/>
  <ellipse cx="26.3" cy="11.2" rx="1.6" ry="2.4"/>
 </g>
 <g stroke="#f2f2f2" stroke-width="1.3">
  <path d="M11 19.4h4.6M17.8 19.4h4.4M24.5 19.4h4.7M11 23h4.6M17.8 23h4.4M24.5 23h4.7M11 26.6h4.6M17.8 26.6h4.4M24.5 26.6h4.7"/>
 </g>
</svg>
<svg class="a" style="left:635px;top:105px" width="40" height="40" viewBox="0 0 40 40">
 <g fill="#e8403a">
  <rect x="8.5" y="9.4" width="23.2" height="2.3" rx="1"/>
  <rect x="8.5" y="13.4" width="23.2" height="16" rx="0.8"/>
 </g>
 <g fill="#f2f2f2">
  <rect x="15" y="15" width="2" height="2"/><rect x="19.1" y="15" width="2" height="2"/><rect x="23.3" y="15" width="2" height="2"/><rect x="27.4" y="15" width="2" height="2"/>
  <rect x="10.9" y="18.6" width="2" height="1.8"/><rect x="15" y="18.6" width="2" height="1.8"/><rect x="19.1" y="18.6" width="2" height="1.8"/><rect x="23.3" y="18.6" width="2" height="1.8"/><rect x="27.4" y="18.6" width="2" height="1.8"/>
  <rect x="10.9" y="22" width="2" height="2"/><rect x="15" y="22" width="2" height="2"/><rect x="19.1" y="22" width="2" height="2"/><rect x="23.3" y="22" width="2" height="2"/><rect x="27.4" y="22" width="2" height="2"/>
  <rect x="10.9" y="25.7" width="2" height="1.8"/><rect x="15" y="25.7" width="2" height="1.8"/><rect x="19.1" y="25.7" width="2" height="1.8"/>
 </g>
</svg>
<svg class="a" style="left:902px;top:105px" width="40" height="40" viewBox="0 0 40 40">
 <circle cx="20.6" cy="19.4" r="7" fill="#e8403a"/>
 <g stroke="#e8403a" stroke-width="1.8" stroke-linecap="round">
  <path d="M20.6 7v4.8M20.6 27v4.8M6 19.4h5.2M29.6 19.4h5.4M10.8 10.9l3.4 2.9M30.2 10.9l-3.4 2.9M10.8 28l3.4-2.9M30.2 28l-3.4-2.9"/>
 </g>
</svg>
<svg class="a" style="left:1170px;top:105px" width="40" height="40" viewBox="0 0 40 40">
 <g fill="none" stroke="#e8403a">
  <circle cx="19.4" cy="23.4" r="8.2" stroke-width="2"/>
  <path d="M19.4 19.2v4.6h-4.4" stroke-width="1.5"/>
  <path d="M13.6 29.5l-1.6 2M25.2 29.5l1.6 2" stroke-width="1.6" stroke-linecap="round"/>
  <path d="M17.2 13.6h4.4M19.4 13.6v2" stroke-width="1.4"/>
 </g>
 <g fill="#e8403a">
  <ellipse cx="12.1" cy="15.3" rx="3.3" ry="2" transform="rotate(-38 12.1 15.3)"/>
  <ellipse cx="26.9" cy="15.5" rx="3.3" ry="2" transform="rotate(38 26.9 15.5)"/>
  <circle cx="22.5" cy="9.6" r="0.9"/>
 </g>
 <g fill="none" stroke="#e8403a" stroke-width="1.1">
  <path d="M24.6 7.4h2l-2 2.4h2M29.2 8.2h2.6l-2.6 3.2h2.6"/>
 </g>
</svg>
<svg class="a" style="left:1437px;top:105px" width="40" height="40" viewBox="0 0 40 40">
 <g fill="none" stroke="#e8403a" stroke-width="2.1" stroke-linecap="round">
  <path d="M6.1 26.2 A14.2 14.2 0 0 1 17.3 12.9"/>
  <path d="M23.2 12.9 A14.2 14.2 0 0 1 34.2 26.2"/>
 </g>
 <path d="M19.6 12.6 L21 12.6 L21.6 26 Q20.3 27.4 19 26 Z" fill="#e8403a"/>
</svg>

<!-- logo -->
<svg class="a" style="left:70px;top:45px" width="105" height="70" viewBox="0 0 1162 775">
 <rect x="95" y="65" width="945" height="655" fill="#dc453d"/>
 <path d="M800 720 L1040 720 L1040 540 Z" fill="#e25a52"/>
 <path fill="#fdfbe8" d="M465 205 L600 110 L600 685 L490 685 L490 560 L520 540 L520 390 L465 355 Z"/>
 <path fill="#6e5b4f" d="M600 110 L700 190 L700 585 L600 535 Z"/>
 <path fill="#fdfbe8" d="M600 535 L720 590 L720 685 L600 685 Z"/>
 <path fill="#6e5b4f" d="M600 612 L600 685 L712 672 Z"/>
 <path fill="#fdfbe8" d="M180 685 L320 635 L320 410 L435 330 L435 685 Z"/>
 <path fill="#6e5b4f" d="M435 330 L520 390 L520 540 L490 560 L490 685 L435 685 Z"/>
 <path d="M440 326 L552 392" stroke="#dc453d" stroke-width="13"/>
 <path fill="#fdfbe8" d="M720 355 L820 420 L820 640 L950 685 L720 685 Z"/>
</svg>

<!-- sidebar overlay handle -->
<div class="a" style="left:11px;top:344px;width:35px;height:84px;border-radius:6px;background:rgba(60,0,0,.09)"></div>
<svg class="a" style="left:11px;top:344px" width="35" height="84" viewBox="0 0 35 84"><g opacity=".16"><path d="M12.5 42 L24 34.5 L24 49.5 Z" fill="#fff" stroke="#fff" stroke-width="4" stroke-linejoin="round"/></g></svg>
</body></html>
